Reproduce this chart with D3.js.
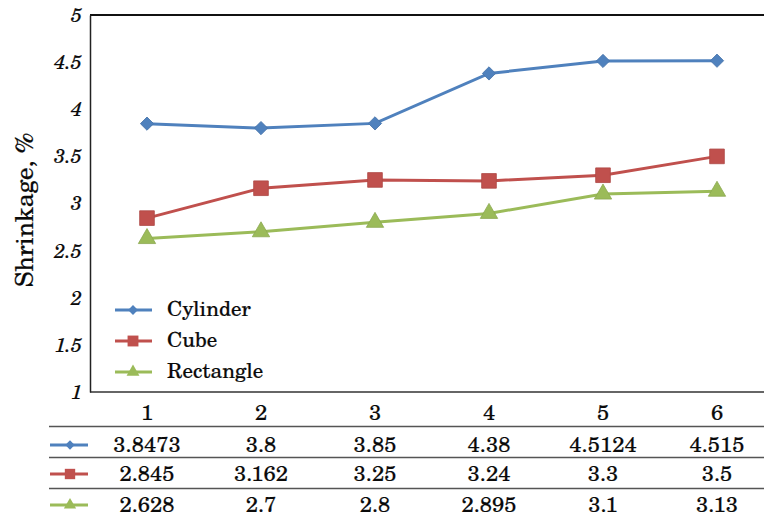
<!DOCTYPE html>
<html><head><meta charset="utf-8">
<script src="https://cdn.jsdelivr.net/npm/d3@7"></script>
<style>body{margin:0;background:#fff}svg{display:block}text{font-family:"TeX Gyre Schola","DejaVu Serif",serif;fill:#0a0a0a;stroke:#0a0a0a;stroke-width:0.2px}</style>
</head><body><svg id="c" width="764" height="521"></svg>
<script>
const categories = [1, 2, 3, 4, 5, 6];
const cylinder = [3.8473, 3.8, 3.85, 4.38, 4.5124, 4.515];
const cube = [2.845, 3.162, 3.25, 3.24, 3.3, 3.5];
const rectangle = [2.628, 2.7, 2.8, 2.895, 3.1, 3.13];
const seriesNames = ["Cylinder", "Cube", "Rectangle"];
const yTicks = [1, 1.5, 2, 2.5, 3, 3.5, 4, 4.5, 5];
const yLabel = "Shrinkage, %";

const series = [
  {name: seriesNames[0], values: cylinder, color: "#4F81BD", shape: "diamond"},
  {name: seriesNames[1], values: cube, color: "#C0504D", shape: "square"},
  {name: seriesNames[2], values: rectangle, color: "#9BBB59", shape: "triangle"}
];

const svg = d3.select("#c");
const plotLeft = 90, plotTop = 15, plotBottom = 392, bandW = 114;
const x = d3.scaleBand().domain(categories).range([plotLeft, plotLeft + bandW * categories.length]).padding(0);
const y = d3.scaleLinear().domain([1, 5]).range([plotBottom, plotTop]);

// plot frame
svg.append("line").attr("x1", plotLeft).attr("x2", 764).attr("y1", plotTop).attr("y2", plotTop).attr("stroke", "#111").attr("stroke-width", 2.2);
svg.append("line").attr("x1", plotLeft).attr("x2", 764).attr("y1", plotBottom).attr("y2", plotBottom).attr("stroke", "#333").attr("stroke-width", 1.5);

// y axis
const yAxis = d3.axisLeft(y).tickValues(yTicks).tickSize(0).tickPadding(8).tickFormat(d => d);
const ya = svg.append("g").attr("transform", `translate(${plotLeft},0)`).call(yAxis);
ya.select(".domain").attr("stroke", "#222").attr("stroke-width", 1.5);
ya.selectAll("text").attr("font-size", 20).attr("font-style", "italic");

svg.append("text").attr("transform", "translate(33,210) rotate(-90)").attr("text-anchor", "middle")
  .attr("font-size", 25).text(yLabel);

const cx = d => x(d) + x.bandwidth() / 2;
const line = d3.line().x((d, i) => cx(categories[i])).y(d => y(d));

function marker(sel, shape, scale) {
  if (shape === "diamond") {
    sel.attr("d", d3.symbol().type(d3.symbolSquare).size(88 * scale)()).attr("transform", function() {
      return d3.select(this).attr("transform") + " rotate(45)";
    });
  } else if (shape === "square") {
    sel.attr("d", d3.symbol().type(d3.symbolSquare).size(215 * scale)());
  } else {
    sel.attr("d", d3.symbol().type(d3.symbolTriangle).size(130 * scale)());
  }
}

series.forEach(s => {
  svg.append("path").attr("d", line(s.values)).attr("fill", "none").attr("stroke", s.color).attr("stroke-width", 3);
  const m = svg.selectAll(null).data(s.values).enter().append("path")
    .attr("transform", (d, i) => `translate(${cx(categories[i])},${y(d)})`)
    .attr("fill", s.color).attr("stroke", d3.color(s.color).darker(0.3)).attr("stroke-width", 0.8);
  marker(m, s.shape, 1);
});

// legend
series.forEach((s, i) => {
  const ly = 310 + i * 31;
  svg.append("line").attr("x1", 115).attr("x2", 152).attr("y1", ly).attr("y2", ly).attr("stroke", s.color).attr("stroke-width", 3);
  const m = svg.append("path").attr("transform", `translate(133,${ly})`).attr("fill", s.color);
  marker(m, s.shape, 0.55);
  svg.append("text").attr("x", 167).attr("y", ly + 6).attr("font-size", 21).text(s.name);
});

// data table
svg.selectAll(null).data(categories).enter().append("text")
  .attr("x", d => cx(d)).attr("y", 420).attr("text-anchor", "middle").attr("font-size", 22).text(d => d);
const rowLines = [426.5, 457.5, 488.5];
rowLines.forEach(ly => svg.append("line").attr("x1", 49).attr("x2", 764).attr("y1", ly).attr("y2", ly).attr("stroke", "#555").attr("stroke-width", 1.5));
const rowCenters = [445, 474, 505];
series.forEach((s, i) => {
  const ry = rowCenters[i];
  svg.append("line").attr("x1", 50).attr("x2", 88).attr("y1", ry).attr("y2", ry).attr("stroke", s.color).attr("stroke-width", 3);
  const m = svg.append("path").attr("transform", `translate(70,${ry})`).attr("fill", s.color);
  marker(m, s.shape, 0.5);
  svg.selectAll(null).data(s.values).enter().append("text")
    .attr("x", (d, j) => cx(categories[j])).attr("y", ry + 7).attr("text-anchor", "middle").attr("font-size", 22)
    .text(d => d);
});
</script></body></html>
